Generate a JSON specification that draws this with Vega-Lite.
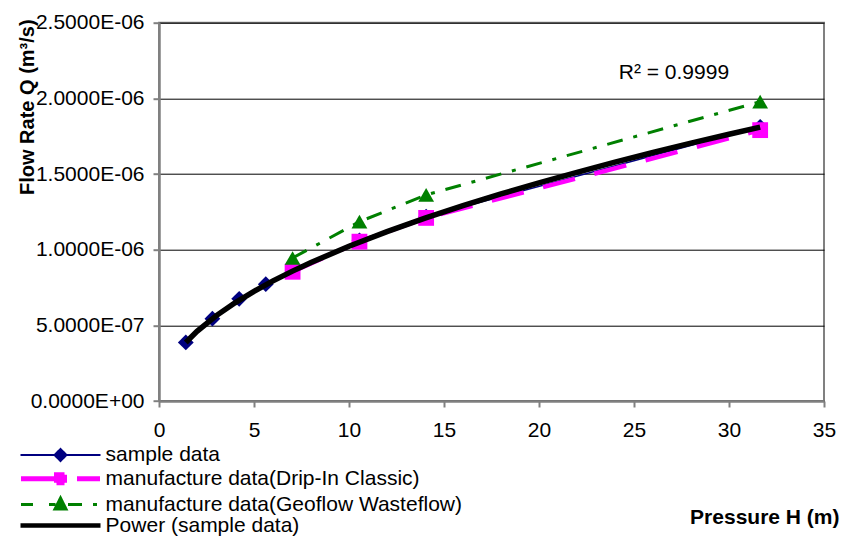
{
  "$schema": "https://vega.github.io/schema/vega-lite/v6.json",
  "width": 665,
  "height": 378.3,
  "autosize": {"type": "none"},
  "padding": {"left": 159, "top": 22.7, "right": 18, "bottom": 136},
  "background": "white",
  "config": {"font": "Liberation Sans", "view": {"stroke": "#808080", "strokeWidth": 2}},
  "datasets": {
    "pts": [
      {"series": "sample data", "H": 1.41, "Q": 3.87e-7},
      {"series": "sample data", "H": 2.81, "Q": 5.44e-7},
      {"series": "sample data", "H": 4.22, "Q": 6.75e-7},
      {"series": "sample data", "H": 5.62, "Q": 7.72e-7},
      {"series": "sample data", "H": 10.55, "Q": 1.062e-6},
      {"series": "sample data", "H": 14.06, "Q": 1.218e-6},
      {"series": "sample data", "H": 31.64, "Q": 1.812e-6},
      {"series": "manufacture data(Drip-In Classic)", "H": 7.03, "Q": 8.54e-7},
      {"series": "manufacture data(Drip-In Classic)", "H": 10.55, "Q": 1.053e-6},
      {"series": "manufacture data(Drip-In Classic)", "H": 14.06, "Q": 1.21e-6},
      {"series": "manufacture data(Drip-In Classic)", "H": 31.64, "Q": 1.79e-6},
      {"series": "manufacture data(Geoflow Wasteflow)", "H": 7.03, "Q": 9.45e-7},
      {"series": "manufacture data(Geoflow Wasteflow)", "H": 10.55, "Q": 1.185e-6},
      {"series": "manufacture data(Geoflow Wasteflow)", "H": 14.06, "Q": 1.362e-6},
      {"series": "manufacture data(Geoflow Wasteflow)", "H": 31.64, "Q": 1.978e-6}
    ],
    "fit": [
      {"series": "Power (sample data)", "H": 1.41, "Q": 3.870e-7},
      {"series": "Power (sample data)", "H": 2, "Q": 4.603e-7},
      {"series": "Power (sample data)", "H": 3, "Q": 5.628e-7},
      {"series": "Power (sample data)", "H": 4, "Q": 6.491e-7},
      {"series": "Power (sample data)", "H": 5, "Q": 7.251e-7},
      {"series": "Power (sample data)", "H": 6, "Q": 7.937e-7},
      {"series": "Power (sample data)", "H": 7, "Q": 8.567e-7},
      {"series": "Power (sample data)", "H": 8, "Q": 9.154e-7},
      {"series": "Power (sample data)", "H": 10, "Q": 1.0225e-6},
      {"series": "Power (sample data)", "H": 12, "Q": 1.1193e-6},
      {"series": "Power (sample data)", "H": 14, "Q": 1.2082e-6},
      {"series": "Power (sample data)", "H": 16, "Q": 1.2909e-6},
      {"series": "Power (sample data)", "H": 18, "Q": 1.3685e-6},
      {"series": "Power (sample data)", "H": 20, "Q": 1.4418e-6},
      {"series": "Power (sample data)", "H": 22, "Q": 1.5115e-6},
      {"series": "Power (sample data)", "H": 24, "Q": 1.5784e-6},
      {"series": "Power (sample data)", "H": 26, "Q": 1.6424e-6},
      {"series": "Power (sample data)", "H": 28, "Q": 1.7037e-6},
      {"series": "Power (sample data)", "H": 30, "Q": 1.7631e-6},
      {"series": "Power (sample data)", "H": 31.64, "Q": 1.8103e-6}
    ],
    "note": [
      {"label": "R² = 0.9999", "H": 27.1, "Q": 2.128e-6}
    ]
  },
  "encoding": {
    "x": {
      "field": "H", "type": "quantitative",
      "scale": {"domain": [0, 35], "nice": false, "zero": true},
      "axis": {
        "values": [0, 5, 10, 15, 20, 25, 30, 35],
        "title": "Pressure H (m)",
        "titleFontSize": 21, "titleFontWeight": "bold", "titleColor": "#000",
        "titleX": 680, "titleY": 122, "titleAlign": "right", "titleBaseline": "alphabetic",
        "labelFontSize": 21, "labelColor": "#000", "labelPadding": 12,
        "labelFlush": false, "labelOverlap": false,
        "tickSize": 6, "tickColor": "#808080", "tickWidth": 2,
        "domainColor": "#808080", "domainWidth": 2.5,
        "grid": false
      }
    },
    "y": {
      "field": "Q", "type": "quantitative",
      "scale": {"domain": [0, 2.5e-6], "nice": false, "zero": true},
      "axis": {
        "values": [0, 5e-7, 1e-6, 1.5e-6, 2e-6, 2.5e-6],
        "labelExpr": "datum.value == 0 ? '0.0000E+00' : replace(format(datum.value, '.4e'), 'e-', 'E-0')",
        "title": "Flow Rate Q (m³/s)",
        "titleFontSize": 20, "titleFontWeight": "bold", "titleColor": "#000",
        "titleX": -126, "titleY": 84, "titleAlign": "center", "titleBaseline": "alphabetic", "titleAngle": -90,
        "labelFontSize": 21, "labelColor": "#000", "labelPadding": 9,
        "labelOverlap": false, "labelFlush": false,
        "tickSize": 6, "tickColor": "#808080", "tickWidth": 2,
        "domainColor": "#808080", "domainWidth": 2.5,
        "grid": true, "gridColor": "#000", "gridWidth": 1
      }
    },
    "color": {
      "field": "series", "type": "nominal",
      "scale": {
        "domain": ["sample data", "manufacture data(Drip-In Classic)", "manufacture data(Geoflow Wasteflow)", "Power (sample data)"],
        "range": ["#000080", "#FF00FF", "#008000", "#000000"]
      },
      "legend": {
        "orient": "none", "legendX": -109, "legendY": 421.8,
        "title": null, "padding": 0,
        "labelFontSize": 21, "labelColor": "#000", "labelOffset": 34.6, "labelLimit": 800,
        "symbolSize": 100, "symbolStrokeWidth": 1.5, "rowPadding": -1.2,
        "encode": {
          "symbols": {
            "update": {
              "shape": {"signal": "datum.value == 'sample data' ? 'M-8,0H8M0,-1.2L1.2,0L0,1.2L-1.2,0Z' : datum.value == 'manufacture data(Drip-In Classic)' ? 'M-7.9,0H-1M3.3,0H7.9M-0.8,-0.8H0.8V0.8H-0.8Z' : datum.value == 'manufacture data(Geoflow Wasteflow)' ? 'M-7.9,0H-5.5M-2.3,0H-1M1.5,0H4.3M6.5,0H7.3M0,-1.3L1.1,0.9L-1.1,0.9Z' : 'M-8,0H8'"},
              "strokeWidth": {"signal": "datum.value == 'sample data' ? 2 : datum.value == 'manufacture data(Drip-In Classic)' ? 5 : datum.value == 'manufacture data(Geoflow Wasteflow)' ? 3 : 4.5"},
              "fill": {"signal": "scale('color', datum.value)"},
              "stroke": {"signal": "scale('color', datum.value)"},
              "strokeDash": {"value": [1, 0]},
              "size": {"value": 100},
              "opacity": {"value": 1},
              "fillOpacity": {"value": 1},
              "strokeOpacity": {"value": 1}
            }
          }
        }
      }
    }
  },
  "layer": [
    {
      "data": {"name": "pts"},
      "transform": [{"filter": "datum.series == 'sample data'"}],
      "mark": {"type": "line", "strokeWidth": 1.5}
    },
    {
      "data": {"name": "pts"},
      "transform": [{"filter": "datum.series == 'manufacture data(Drip-In Classic)'"}],
      "mark": {"type": "line", "strokeWidth": 4.5, "strokeDash": [33, 20]}
    },
    {
      "data": {"name": "pts"},
      "transform": [{"filter": "datum.series == 'manufacture data(Geoflow Wasteflow)'"}],
      "mark": {"type": "line", "strokeWidth": 3, "strokeDash": [16, 11, 4, 11]}
    },
    {
      "data": {"name": "pts"},
      "mark": {"type": "point", "filled": true, "size": 250, "opacity": 1},
      "encoding": {
        "shape": {
          "field": "series", "type": "nominal",
          "scale": {
            "domain": ["sample data", "manufacture data(Drip-In Classic)", "manufacture data(Geoflow Wasteflow)"],
            "range": ["diamond", "square", "triangle-up"]
          },
          "legend": null
        }
      }
    },
    {
      "data": {"name": "fit"},
      "mark": {"type": "line", "strokeWidth": 5.5}
    },
    {
      "data": {"name": "note"},
      "mark": {"type": "text", "fontSize": 21, "align": "center", "baseline": "alphabetic"},
      "encoding": {
        "text": {"field": "label"},
        "color": {"value": "#000"}
      }
    }
  ]
}
